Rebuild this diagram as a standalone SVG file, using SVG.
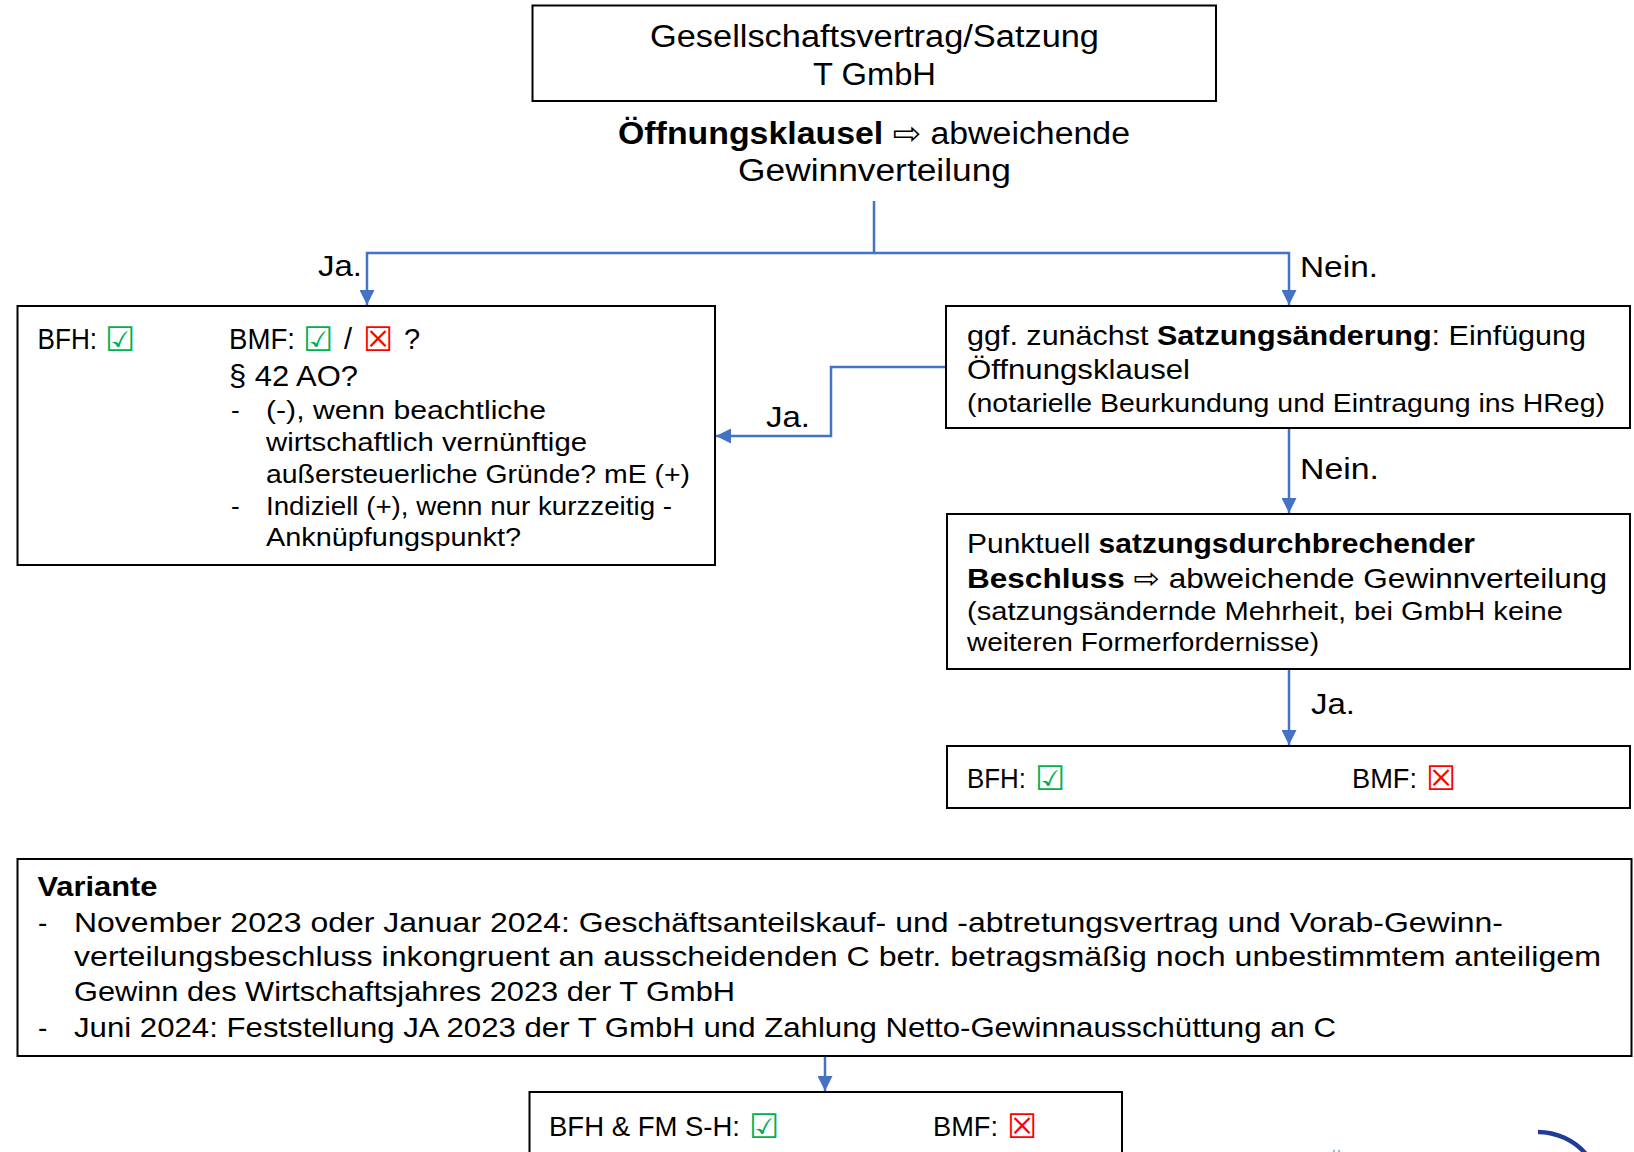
<svg xmlns="http://www.w3.org/2000/svg" width="1634" height="1152" viewBox="0 0 1634 1152">
<style>
.t{font-family:"Liberation Sans","DejaVu Sans",sans-serif;fill:#000}
.b{font-weight:bold}
.box{fill:#fff;stroke:#000;stroke-width:2}
.c{fill:none;stroke:#4472C4;stroke-width:2.5}
.ok{font-family:"DejaVu Sans",sans-serif;fill:#00B050;font-size:34px}
.no{font-family:"DejaVu Sans",sans-serif;fill:#FF0000;font-size:34px}
</style>
<defs>
<marker id="ah" markerWidth="15" markerHeight="15" refX="15" refY="7.5" orient="auto" markerUnits="userSpaceOnUse">
<path d="M0,0 L15,7.5 L0,15 z" fill="#4472C4"/>
</marker>
</defs>
<rect width="1634" height="1152" fill="#fff"/>

<g id="connectors">
<path class="c" d="M874,201 V253 H367 V305" marker-end="url(#ah)"/>
<path class="c" d="M874,253 H1289 V305" marker-end="url(#ah)"/>
<path class="c" d="M946,367 H831 V436 H716" marker-end="url(#ah)"/>
<path class="c" d="M1289,428 V513" marker-end="url(#ah)"/>
<path class="c" d="M1289,669 V745" marker-end="url(#ah)"/>
<path class="c" d="M825,1056 V1091" marker-end="url(#ah)"/>
<text class="t" x="318" y="276" font-size="30" textLength="44" lengthAdjust="spacingAndGlyphs">Ja.</text>
<text class="t" x="1300" y="277" font-size="30" textLength="78" lengthAdjust="spacingAndGlyphs">Nein.</text>
<text class="t" x="766" y="427" font-size="30" textLength="44" lengthAdjust="spacingAndGlyphs">Ja.</text>
<text class="t" x="1300" y="479" font-size="30" textLength="79" lengthAdjust="spacingAndGlyphs">Nein.</text>
<text class="t" x="1311" y="714" font-size="30" textLength="44" lengthAdjust="spacingAndGlyphs">Ja.</text>
</g>

<g id="top">
<rect class="box" x="532.5" y="5.5" width="683.5" height="95.5"/>
<text class="t" x="650" y="47" font-size="31" textLength="449" lengthAdjust="spacingAndGlyphs">Gesellschaftsvertrag/Satzung</text>
<text class="t" x="813" y="84.5" font-size="31" textLength="123" lengthAdjust="spacingAndGlyphs">T GmbH</text>
</g>

<g id="question">
<text class="t" x="618" y="144" font-size="31" textLength="512" lengthAdjust="spacingAndGlyphs"><tspan class="b">Öffnungsklausel</tspan> ⇨ abweichende</text>
<text class="t" x="738" y="181" font-size="31" textLength="273" lengthAdjust="spacingAndGlyphs">Gewinnverteilung</text>
</g>

<g id="left-box">
<rect class="box" x="17.5" y="306" width="697.5" height="259"/>
<text class="t" x="37.5" y="349" font-size="29" textLength="59.5" lengthAdjust="spacingAndGlyphs">BFH:</text>
<text class="ok" x="105" y="351">☑</text>
<text class="t" x="229" y="349" font-size="29" textLength="66" lengthAdjust="spacingAndGlyphs">BMF:</text>
<text class="ok" x="303" y="351">☑</text>
<text class="t" x="344" y="349" font-size="29">/</text>
<text class="no" x="363" y="351">☒</text>
<text class="t" x="404" y="349" font-size="29">?</text>
<text class="t" x="229" y="386" font-size="29" textLength="129" lengthAdjust="spacingAndGlyphs">§ 42 AO?</text>
<text class="t" x="231" y="419" font-size="26">-</text>
<text class="t" x="266" y="419" font-size="26" textLength="280" lengthAdjust="spacingAndGlyphs">(-), wenn beachtliche</text>
<text class="t" x="266" y="451" font-size="26" textLength="321" lengthAdjust="spacingAndGlyphs">wirtschaftlich vernünftige</text>
<text class="t" x="266" y="483" font-size="26" textLength="424" lengthAdjust="spacingAndGlyphs">außersteuerliche Gründe? mE (+)</text>
<text class="t" x="231" y="515" font-size="26">-</text>
<text class="t" x="266" y="515" font-size="26" textLength="406" lengthAdjust="spacingAndGlyphs">Indiziell (+), wenn nur kurzzeitig -</text>
<text class="t" x="266" y="546" font-size="26" textLength="255" lengthAdjust="spacingAndGlyphs">Anknüpfungspunkt?</text>
</g>

<g id="satzungsaenderung">
<rect class="box" x="946" y="306" width="684" height="122"/>
<text class="t" x="967" y="345" font-size="28" textLength="619" lengthAdjust="spacingAndGlyphs">ggf. zunächst <tspan class="b">Satzungsänderung</tspan>: Einfügung</text>
<text class="t" x="967" y="379" font-size="28" textLength="223" lengthAdjust="spacingAndGlyphs">Öffnungsklausel</text>
<text class="t" x="967" y="412" font-size="25" textLength="638" lengthAdjust="spacingAndGlyphs">(notarielle Beurkundung und Eintragung ins HReg)</text>
</g>

<g id="beschluss">
<rect class="box" x="947" y="514" width="683" height="155"/>
<text class="t" x="967" y="553" font-size="28" textLength="508" lengthAdjust="spacingAndGlyphs">Punktuell <tspan class="b">satzungsdurchbrechender</tspan></text>
<text class="t" x="967" y="588" font-size="28" textLength="640" lengthAdjust="spacingAndGlyphs"><tspan class="b">Beschluss</tspan> ⇨ abweichende Gewinnverteilung</text>
<text class="t" x="967" y="620" font-size="25" textLength="596" lengthAdjust="spacingAndGlyphs">(satzungsändernde Mehrheit, bei GmbH keine</text>
<text class="t" x="967" y="651" font-size="25" textLength="352" lengthAdjust="spacingAndGlyphs">weiteren Formerfordernisse)</text>
</g>

<g id="ergebnis">
<rect class="box" x="947" y="746" width="683" height="62"/>
<text class="t" x="967" y="788" font-size="28" textLength="59" lengthAdjust="spacingAndGlyphs">BFH:</text>
<text class="ok" x="1035" y="790">☑</text>
<text class="t" x="1352" y="788" font-size="28" textLength="65" lengthAdjust="spacingAndGlyphs">BMF:</text>
<text class="no" x="1426" y="790">☒</text>
</g>

<g id="variante">
<rect class="box" x="17.5" y="859" width="1614" height="197"/>
<text class="t b" x="37.5" y="896" font-size="28" textLength="120" lengthAdjust="spacingAndGlyphs">Variante</text>
<text class="t" x="38" y="932" font-size="28">-</text>
<text class="t" x="74" y="932" font-size="28" textLength="1429" lengthAdjust="spacingAndGlyphs">November 2023 oder Januar 2024: Geschäftsanteilskauf- und -abtretungsvertrag und Vorab-Gewinn-</text>
<text class="t" x="74" y="966" font-size="28" textLength="1527" lengthAdjust="spacingAndGlyphs">verteilungsbeschluss inkongruent an ausscheidenden C betr. betragsmäßig noch unbestimmtem anteiligem</text>
<text class="t" x="74" y="1001" font-size="28" textLength="661" lengthAdjust="spacingAndGlyphs">Gewinn des Wirtschaftsjahres 2023 der T GmbH</text>
<text class="t" x="38" y="1037" font-size="28">-</text>
<text class="t" x="74" y="1037" font-size="28" textLength="1262" lengthAdjust="spacingAndGlyphs">Juni 2024: Feststellung JA 2023 der T GmbH und Zahlung Netto-Gewinnausschüttung an C</text>
</g>

<g id="variante-ergebnis">
<rect class="box" x="529.5" y="1092" width="592.5" height="80"/>
<text class="t" x="549" y="1136" font-size="28" textLength="191" lengthAdjust="spacingAndGlyphs">BFH &amp; FM S-H:</text>
<text class="ok" x="749" y="1138">☑</text>
<text class="t" x="933" y="1136" font-size="28" textLength="65" lengthAdjust="spacingAndGlyphs">BMF:</text>
<text class="no" x="1007" y="1138">☒</text>
</g>

<g id="logo">
<path d="M1538,1132 A64,64 0 0 1 1586,1154" fill="none" stroke="#1f3c99" stroke-width="4.5"/>
<circle cx="1334" cy="1151" r="1.2" fill="#9bb7d4"/>
<circle cx="1339" cy="1151" r="1.2" fill="#9bb7d4"/>
</g>
</svg>
